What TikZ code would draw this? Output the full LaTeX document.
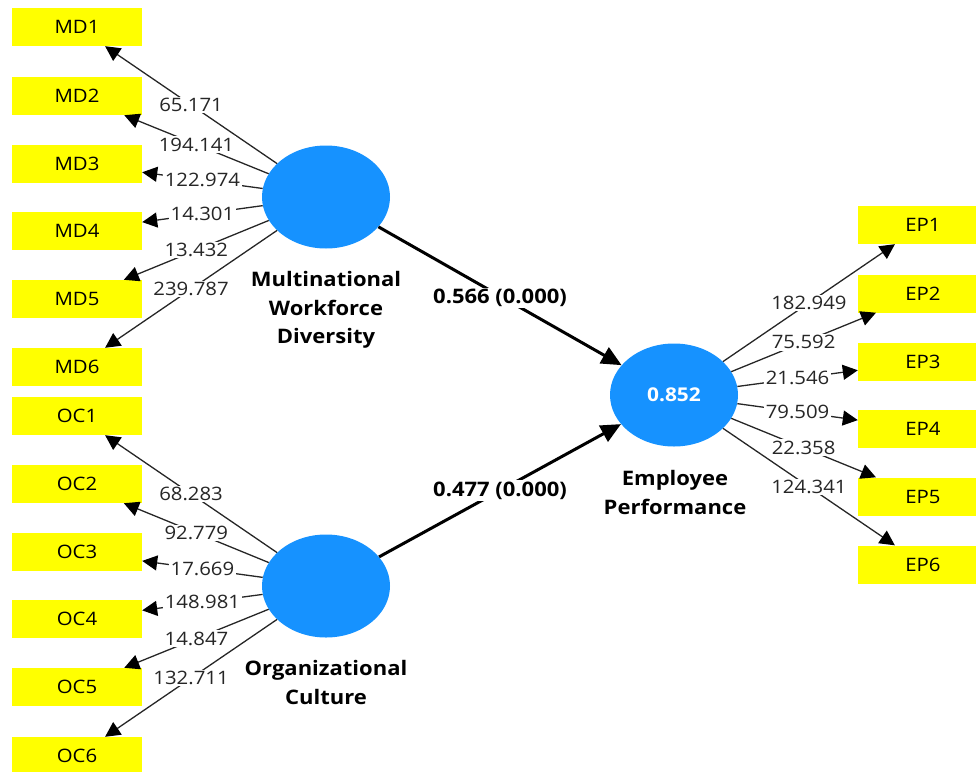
\documentclass[tikz,border=0pt]{standalone}
\usepackage{fontspec}
\setmainfont{Open Sans}[FakeStretch=1.1]
\usetikzlibrary{shapes.geometric,arrows.meta}
\definecolor{lvblue}{RGB}{22,146,255}
\definecolor{mvyellow}{RGB}{255,255,0}
\begin{document}
\begin{tikzpicture}[x=1pt,y=-1pt,
  mv/.style={fill=mvyellow, minimum width=130pt, minimum height=38pt, inner sep=0pt,
    font=\fontsize{18.5}{20}\selectfont},
  lv/.style={ellipse, fill=lvblue, minimum width=128pt, minimum height=103pt, inner sep=0pt},
  lvname/.style={font=\fontsize{20}{28.5}\selectfont\bfseries, align=center},
  loadarrow/.style={draw=black!85, line width=1.3pt,
    -{Triangle[length=15pt,width=15pt,color=black]}},
  coef/.style={fill=white, inner sep=1.5pt, font=\fontsize{18.5}{20}\selectfont, text=black!85},
  structarrow/.style={draw=black, line width=3pt, -{Triangle[length=20pt,width=18pt]}},
  pcoef/.style={fill=white, inner sep=1.5pt, font=\fontsize{20}{22}\selectfont\bfseries}
]
\useasboundingbox (0,0) rectangle (976,771);

% latent variables
\node[lv] (MWD) at (326,197) {};
\node[lv] (OC) at (326,586) {};
\node[lv] (EP) at (674,395) {\fontsize{19}{20}\selectfont\bfseries\textcolor{white}{0.852}};

\node[lvname] (MWDname) at (326,310) {Multinational\\Workforce\\Diversity};
\node[lvname] (OCname) at (326,682.5) {Organizational\\Culture};
\node[lvname] (EPname) at (675,492.5) {Employee\\Performance};

% indicators
\node[mv] (MD1) at (77,27) {MD1};
\node[mv] (MD2) at (77,96) {MD2};
\node[mv] (MD3) at (77,163.5) {MD3};
\node[mv] (MD4) at (77,231) {MD4};
\node[mv] (MD5) at (77,299) {MD5};
\node[mv] (MD6) at (77,367) {MD6};

\node[mv] (OC1) at (77,416) {OC1};
\node[mv] (OC2) at (77,484) {OC2};
\node[mv] (OC3) at (77,552) {OC3};
\node[mv] (OC4) at (77,619) {OC4};
\node[mv] (OC5) at (77,687) {OC5};
\node[mv] (OC6) at (77,756) {OC6};

\node[mv] (EP1) at (923,225) {EP1};
\node[mv] (EP2) at (923,293.5) {EP2};
\node[mv] (EP3) at (923,361.5) {EP3};
\node[mv] (EP4) at (923,429) {EP4};
\node[mv] (EP5) at (923,496.5) {EP5};
\node[mv] (EP6) at (923,564.5) {EP6};

% outer loadings
\draw[loadarrow] (MWD) -- node[coef] {65.171} (MD1);
\draw[loadarrow] (MWD) -- node[coef] {194.141} (MD2);
\draw[loadarrow] (MWD) -- node[coef] {122.974} (MD3);
\draw[loadarrow] (MWD) -- node[coef] {14.301} (MD4);
\draw[loadarrow] (MWD) -- node[coef] {13.432} (MD5);
\draw[loadarrow] (MWD) -- node[coef] {239.787} (MD6);

\draw[loadarrow] (OC) -- node[coef] {68.283} (OC1);
\draw[loadarrow] (OC) -- node[coef] {92.779} (OC2);
\draw[loadarrow] (OC) -- node[coef] {17.669} (OC3);
\draw[loadarrow] (OC) -- node[coef] {148.981} (OC4);
\draw[loadarrow] (OC) -- node[coef] {14.847} (OC5);
\draw[loadarrow] (OC) -- node[coef] {132.711} (OC6);

\draw[loadarrow] (EP) -- node[coef] {182.949} (EP1);
\draw[loadarrow] (EP) -- node[coef] {75.592} (EP2);
\draw[loadarrow] (EP) -- node[coef] {21.546} (EP3);
\draw[loadarrow] (EP) -- node[coef] {79.509} (EP4);
\draw[loadarrow] (EP) -- node[coef] {22.358} (EP5);
\draw[loadarrow] (EP) -- node[coef] {124.341} (EP6);

% structural paths
\draw[structarrow] (MWD) -- node[pcoef, pos=0.5, yshift=-2pt] {0.566 (0.000)} (EP);
\draw[structarrow] (OC) -- node[pcoef] {0.477 (0.000)} (EP);
\end{tikzpicture}
\end{document}
